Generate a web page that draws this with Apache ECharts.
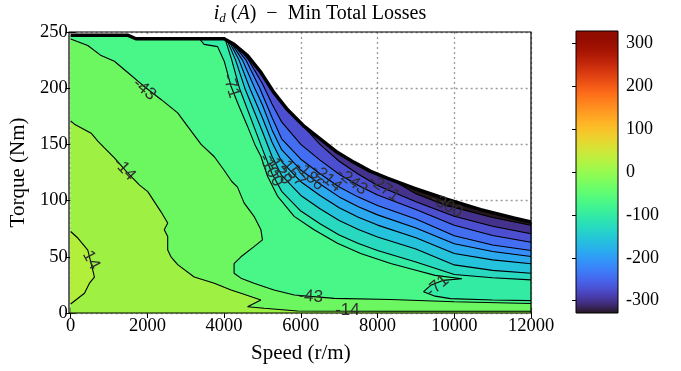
<!DOCTYPE html>
<html><head><meta charset="utf-8">
<script src="https://cdn.jsdelivr.net/npm/echarts@6/dist/echarts.min.js"></script>
<style>html,body{margin:0;padding:0;background:#fff}#c{width:681px;height:371px}</style>
</head><body><div id="c"></div>
<script>
// ---------------- data (speed r/m, torque Nm) ----------------
const speedTicks = [0, 2000, 4000, 6000, 8000, 10000, 12000];
const torqueTicks = [0, 50, 100, 150, 200, 250];
const cbarTicks = [-300, -200, -100, 0, 100, 200, 300];
const cbarMin = -328.57, cbarMax = 328.57;

// max-torque envelope
const envelope = [[0,247],[1500,247],[1700,244],[4000,244],[4260,239],[4610,229],[4960,214],[5300,196],[5650,181],[6090,166],[6520,154.5],[6950,143],[7390,134],[7820,126],[8250,120],[8950,111],[9820,101],[10690,92],[11550,84.5],[12000,81]];

// contour lines
const c_p14 = [[0,72.5],[187,66.7],[447,56],[578,38],[620,32],[490,26.5],[360,17.6],[0,8]];
const c_m14 = [[0,170.8],[99,168],[534,160],[708,153],[880,147],[1140,138],[1450,126],[1790,114],[2010,108],[2355,90],[2530,80],[2440,74],[2530,68],[2530,56],[2615,50],[2790,43],[3220,32],[3745,26.5],[4180,20.5],[4440,17.6],[4958,11.6],[4612,5.6],[5045,4.2],[5913,1.8],[8342,1.5],[12000,1.5]];
const c_m43 = [[0,243.8],[447,238],[794,229],[1140,224],[1488,214],[1900,202],[2355,190],[2790,178],[3050,166],[3400,150],[3745,139],[4000,127],[4200,117],[4350,112],[4520,98],[4780,86],[4960,74],[5000,65],[4780,59],[4440,50],[4260,44],[4260,35.4],[4440,31],[4780,26.5],[5300,20.5],[5830,16],[6870,13],[8340,12],[10000,10],[12000,8.5]];
const c_m71 = [[3353,244],[3480,239],[3830,237],[4003,224],[4178,202],[4350,187],[4612,166],[4800,150],[4958,139.5],[5132,121.7],[5392,104],[5826,86],[6346,74],[6954,62],[7560,53],[8342,44],[9000,38],[9500,33.5],[10200,30.5],[9700,29],[9400,25],[9200,19],[9500,15],[9900,12.8],[11000,11.6],[12000,11]];
const c_m100 = [[4030,243.4],[4200,225],[4400,200],[5000,145.8],[5250,123.9],[5500,108.3],[6000,90.7],[6500,79.4],[7000,69.4],[7500,61.8],[8000,55.6],[9000,45.3],[10000,34.2],[11000,31.3],[12000,29.5]];
const c_m129 = [[4080,242.5],[4300,225],[4540,200],[5000,161.2],[5250,139.2],[5500,122.4],[6000,104.6],[6500,92.8],[7000,82.3],[7500,74.3],[8000,67.6],[9000,56.9],[10000,42.8],[11000,37.9],[12000,35.4]];
const c_m157 = [[4130,241.5],[4390,225],[4670,200],[5000,173.5],[5250,151.9],[5500,134.7],[6000,116.8],[6500,104.6],[7000,93.6],[7500,85.2],[8000,78.2],[9000,67],[10000,52.9],[11000,47.3],[12000,43.75]];
const c_m186 = [[4180,240.5],[4480,225],[4800,200],[5000,185.1],[5250,162.9],[5500,145.3],[6000,127.2],[6500,114.7],[7000,103.3],[7500,94.6],[8000,87.3],[9000,75.7],[10000,61.6],[11000,54.7],[12000,50.3]];
const c_m214 = [[4230,239.6],[4570,225],[4930,200],[5250,174],[5500,155],[6000,136.8],[6500,123.9],[7000,112.1],[7500,103.1],[8000,95.6],[9000,83.7],[10000,68.8],[11000,60.5],[12000,55.6]];
const c_m243 = [[4400,235],[4640,225],[5000,204],[5250,186],[5500,170],[6000,150],[6500,136],[7000,123.5],[7500,113.5],[8000,105],[9000,92],[10000,78.1],[11000,68.9],[12000,63]];
const c_m271 = [[5900,172.5],[6500,150],[7000,135],[7500,123.5],[8000,113.5],[9000,99],[10000,86],[11000,77.2],[12000,70.5]];
const c_m300 = [[7800,126.4],[8500,116],[9000,106],[9800,95.5],[10000,94],[11000,85],[12000,78]];

// contour levels of the lines above
const lowerLines  = [c_m14, c_m43, c_m71, c_m100, c_m129, c_m157, c_m186, c_m214, c_m243, c_m271, c_m300];
const lowerLevels = [-14.29, -42.86, -71.43, -100, -128.57, -157.14, -185.71, -214.29, -242.86, -271.43, -300];
const levelStep = 28.57;
const upperLevel = 14.29;

// band fills for the green/yellow bands (others from the colormap)
const bandFillDomain = '#9ef142';   // -14 .. 14
const bandFillCorner = '#b2ef3a';   // > 14
const bandFillLower  = ['#6cf660', null, null, null, null, null, null, null, null, null, null]; // below each lower line

// contour labels
const labelText   = ['14', '-14', '-43', '-71', '-100', '-129', '-157', '-186', '-214', '-243', '-271', '-300', '-43', '-14', '-71'];
const labelSpeed  = [534, 1400, 1921, 4178, 5219, 5420, 5750, 6220, 6670, 7330, 8165, 9800, 6258, 7215, 9557];
const labelTorque = [47, 128, 199, 202, 127, 128, 126, 122, 120, 117, 111, 95.5, 14.6, 2, 24];
const labelAngle  = [-62, -47, -40, -72, -62, -56, -50, -44, -40, -37, -35, -28, -4, 0, 40];

// ---------------- helpers ----------------
function turbo(t) {
  t = Math.max(0, Math.min(1, t));
  const r = 0.13572138 + t*(4.61539260 + t*(-42.66032258 + t*(132.13108234 + t*(-152.94239396 + t*59.28637943))));
  const g = 0.09140261 + t*(2.19418839 + t*(4.84296658 + t*(-14.18503333 + t*(4.27729857 + t*2.82956604))));
  const b = 0.10667330 + t*(12.64194608 + t*(-60.58204836 + t*(110.36276771 + t*(-89.90310912 + t*27.34824973))));
  const c = v => Math.max(0, Math.min(255, Math.round(v*255)));
  return 'rgb(' + c(r) + ',' + c(g) + ',' + c(b) + ')';
}
function col(v) { return turbo((v - cbarMin) / (cbarMax - cbarMin)); }

const regions = [];
regions.push({ pts: [[0,0],[12000,0]].concat(envelope.slice().reverse()), fill: bandFillDomain });
regions.push({ pts: c_p14, fill: bandFillCorner });
lowerLines.forEach((ln, i) => {
  const s0 = ln[0][0];
  const back = envelope.filter(p => p[0] >= s0).reverse();
  regions.push({ pts: ln.concat(back), fill: bandFillLower[i] || col(lowerLevels[i] - levelStep) });
});

const allLines = [c_p14].concat(lowerLines);

const stops = [];
for (let i = 0; i <= 64; i++) stops.push({ offset: i/64, color: turbo(1 - i/64) });

const serif = 'Liberation Serif';
const chart = echarts.init(document.getElementById('c'), null, { renderer: 'canvas' });

const series = [];
series.push({
  type: 'custom', xAxisIndex: 0, yAxisIndex: 0, silent: true, z: 2,
  data: regions.map(() => [0, 0]),
  renderItem: (params, api) => {
    const r = regions[params.dataIndex];
    return { type: 'polygon', shape: { points: r.pts.map(p => api.coord(p)) },
      style: { fill: r.fill, stroke: r.fill, lineWidth: 0.6 } };
  }
});
allLines.forEach(ln => series.push({
  type: 'line', data: ln, symbol: 'none', showSymbol: false, silent: true, z: 3,
  lineStyle: { color: '#000', width: 1.1 }
}));
series.push({
  type: 'line', data: envelope, symbol: 'none', showSymbol: false, silent: true, z: 4,
  lineStyle: { color: '#000', width: 3.5 }
});
series.push({
  type: 'custom', xAxisIndex: 0, yAxisIndex: 0, silent: true, z: 5,
  data: labelText.map((t, i) => [labelSpeed[i], labelTorque[i]]),
  renderItem: (params, api) => {
    const p = api.coord([api.value(0), api.value(1)]);
    return { type: 'text', x: p[0], y: p[1], rotation: labelAngle[params.dataIndex] * Math.PI / 180,
      style: { text: labelText[params.dataIndex], fill: '#303030', fontSize: 17, fontFamily: 'Liberation Sans',
        align: 'center', verticalAlign: 'middle' } };
  }
});
series.push({
  type: 'custom', xAxisIndex: 2, yAxisIndex: 2, silent: true, z: 2,
  data: [[0, 0]],
  renderItem: (params, api) => {
    const a = api.coord([0, cbarMax]), b = api.coord([1, cbarMin]);
    return { type: 'rect', shape: { x: a[0], y: a[1], width: b[0]-a[0], height: b[1]-a[1] },
      style: { fill: { type: 'linear', x: 0, y: 0, x2: 0, y2: 1, colorStops: stops }, stroke: '#000', lineWidth: 1 } };
  }
});

const tickStyle = { color: '#000', width: 1 };
const plain = v => String(v);
chart.setOption({
  animation: false,
  grid: [
    { left: 69, top: 32, width: 462, height: 281 },
    { left: 576, top: 31, width: 42, height: 282 }
  ],
  xAxis: [
    { gridIndex: 0, type: 'value', min: speedTicks[0], max: speedTicks[speedTicks.length-1], interval: speedTicks[1]-speedTicks[0],
      position: 'bottom', axisLine: { show: false },
      axisTick: { inside: true, length: 5, lineStyle: tickStyle },
      axisLabel: { fontFamily: serif, fontSize: 18.5, color: '#000', margin: 4, formatter: plain },
      splitLine: { show: true, lineStyle: { color: '#9a9a9a', type: [2, 3], width: 1.3 } },
      name: 'Speed (r/m)', nameLocation: 'middle', nameGap: 30,
      nameTextStyle: { fontFamily: serif, fontSize: 21, color: '#000' } },
    { gridIndex: 0, type: 'value', min: 0, max: 12000, interval: 2000, position: 'top',
      axisLine: { show: false }, axisTick: { inside: true, length: 5, lineStyle: tickStyle },
      axisLabel: { show: false }, splitLine: { show: false } },
    { gridIndex: 1, type: 'value', min: 0, max: 1, show: false }
  ],
  yAxis: [
    { gridIndex: 0, type: 'value', min: torqueTicks[0], max: torqueTicks[torqueTicks.length-1], interval: torqueTicks[1]-torqueTicks[0],
      position: 'left', axisLine: { show: false },
      axisTick: { inside: true, length: 5, lineStyle: tickStyle },
      axisLabel: { fontFamily: serif, fontSize: 18.5, color: '#000', margin: 3, formatter: plain },
      splitLine: { show: true, lineStyle: { color: '#9a9a9a', type: [2, 3], width: 1.3 } },
      name: 'Torque (Nm)', nameLocation: 'middle', nameGap: 37, nameRotate: 90,
      nameTextStyle: { fontFamily: serif, fontSize: 21, color: '#000' } },
    { gridIndex: 0, type: 'value', min: 0, max: 250, interval: 50, position: 'right',
      axisLine: { show: false }, axisTick: { inside: true, length: 5, lineStyle: tickStyle },
      axisLabel: { show: false }, splitLine: { show: false } },
    { gridIndex: 1, type: 'value', min: cbarMin, max: cbarMax, position: 'right',
      axisLine: { show: false },
      axisTick: { show: true, inside: true, length: 4, lineStyle: tickStyle, customValues: cbarTicks },
      axisLabel: { fontFamily: serif, fontSize: 18, color: '#000', margin: 8, customValues: cbarTicks, formatter: plain },
      splitLine: { show: false } }
  ],
  graphic: [
    { type: 'rect', z: 100, silent: true, shape: { x: 69, y: 32, width: 462, height: 281 },
      style: { fill: 'none', stroke: '#000', lineWidth: 1.2 } },
    { type: 'text', z: 100, x: 320, y: 14, silent: true,
      style: { text: '{i|i}{s|d}{n| (}{i|A}{n|)  \u2212  Min Total Losses}', align: 'center', verticalAlign: 'middle',
        rich: {
          i: { fontFamily: serif, fontStyle: 'italic', fontSize: 20, lineHeight: 22, verticalAlign: 'middle', fill: '#000' },
          s: { fontFamily: serif, fontStyle: 'italic', fontSize: 13, lineHeight: 10, verticalAlign: 'bottom', fill: '#000' },
          n: { fontFamily: serif, fontSize: 20, lineHeight: 22, verticalAlign: 'middle', fill: '#000' }
        } } }
  ],
  series: series
});
</script></body></html>
